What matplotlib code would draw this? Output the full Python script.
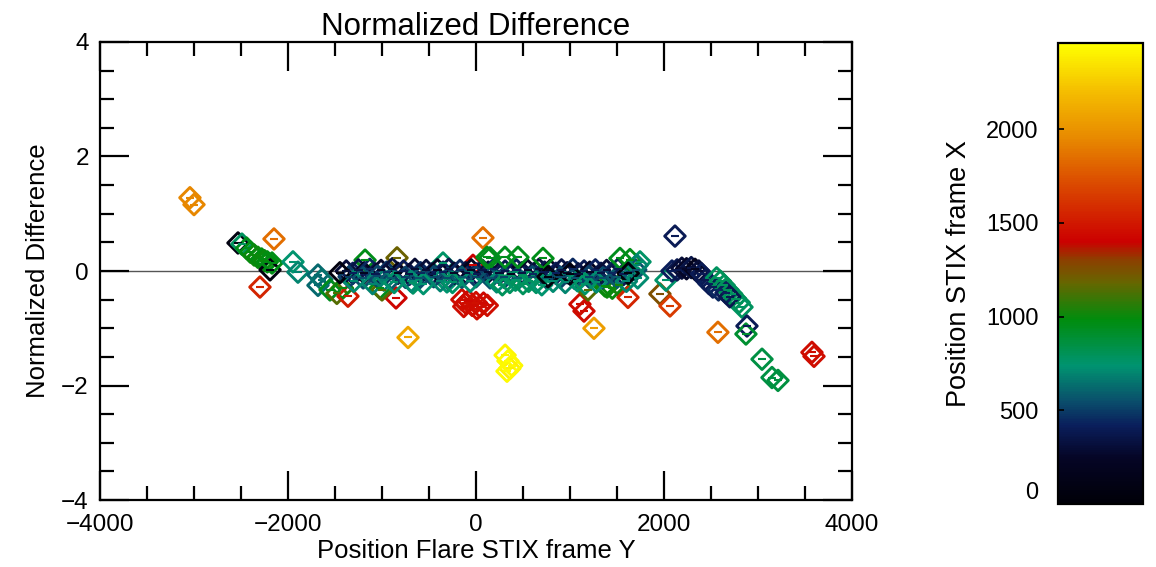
import numpy as np
import matplotlib
matplotlib.use("Agg")
import matplotlib.pyplot as plt
from matplotlib.colors import LinearSegmentedColormap, Normalize
from matplotlib.ticker import MultipleLocator
import matplotlib.cm as cm

plt.rcParams["font.family"] = ["Liberation Sans", "DejaVu Sans"]

# flare position Y, normalized difference, flare position X
pos_y = [
    -3043, -3000, -2532, -2490, -2440, -2400, -2360, -2320, -2280, -2250,
    -2220, -2191, -2170, -2149, -2298, -1947, -1894, -1681, -1681, -1640,
    -1553, -1480, -1420, -1362, -851, -723, -840, -1180, -1021, -1000,
    -670, -309, -351,
    -150, -110, -80, -40, 0, 40, 80, 120, -130, 10, -32, 74,
    310, 340, 360, 380, 330,
    1106, 1149, 1255, 1191, 1372, 1394, 1450, 1520, 1617, 1957, 2064, 2021, 2117,
    2085, 2140, 2190, 2240, 2290, 2330, 2370, 2400,
    2440, 2480, 2520, 2580, 2560, 2600, 2640, 2680, 2720, 2760, 2800, 2830,
    2660, 2700, 2883, 2872, 2574, 3043, 3149, 3213, 3574, 3596,
    -1380, -1310, -1250, -1190, -1130, -1070, -1010, -950, -890, -830,
    -770, -710, -650, -590, -530, -470, -410, -350, -290, -230,
    -170, -110, -50, 10, 70, 130, 190, 250, 310, 370,
    430, 490, 550, 610, 670, 730, 790, 850, 910, 970,
    1030, 1090, 1150, 1210, 1270, 1330, 1390, 1450, 1510, 1570, 1640, 1700,
    -1350, -1200, -1050, -900, -750, -600, -450, -300, -150, 0,
    150, 300, 450, 600, 750, 900, 1050, 1200, 1350, 1500,
    -1300, -1100, -980, -870, -690, -560, -380, -250, -60, 220,
    280, 360, 420, 500, 560, 640, 700, 820, 950, 1080,
    1160, 1280, 1600, 1720,
    117, 149, 308, 447, 713, 1532, 1638, 1745, 1713,
    -1447, 766, 1000, 1620,
]
norm_diff = [
    1.28, 1.16, 0.49, 0.47, 0.40, 0.33, 0.28, 0.24, 0.21, 0.18,
    0.16, 0.02, 0.14, 0.56, -0.28, 0.16, -0.02, -0.07, -0.25, -0.15,
    -0.33, -0.39, -0.30, -0.44, -0.47, -1.16, 0.23, 0.19, -0.30, -0.33,
    -0.21, -0.19, 0.14,
    -0.50, -0.56, -0.52, -0.60, -0.55, -0.62, -0.56, -0.60, -0.62, -0.66, 0.10, 0.58,
    -1.47, -1.57, -1.70, -1.65, -1.75,
    -0.58, -0.70, -1.00, -0.33, -0.26, -0.28, -0.30, -0.25, -0.46, -0.40, -0.61, -0.16, 0.61,
    0.00, 0.02, 0.05, 0.04, 0.06, 0.03, 0.00, -0.05,
    -0.15, -0.22, -0.28, -0.33, -0.12, -0.18, -0.25, -0.33, -0.40, -0.48, -0.55, -0.63,
    -0.38, -0.45, -0.96, -1.10, -1.07, -1.54, -1.86, -1.91, -1.42, -1.49,
    0.00, -0.04, 0.02, -0.03, 0.03, -0.05, 0.01, -0.02, 0.04, -0.04,
    0.00, -0.06, 0.03, -0.03, 0.01, -0.05, 0.02, -0.02, 0.03, -0.04,
    0.01, -0.03, 0.02, -0.05, 0.01, -0.02, 0.03, -0.04, 0.00, -0.06,
    0.02, -0.03, 0.01, -0.05, 0.03, -0.02, 0.01, -0.04, 0.02, -0.03,
    0.03, -0.05, 0.00, -0.02, 0.02, -0.04, 0.01, -0.03, 0.03, -0.06, -0.02, 0.02,
    -0.10, -0.12, -0.09, -0.13, -0.11, -0.12, -0.10, -0.13, -0.11, -0.10,
    -0.12, -0.11, -0.13, -0.10, -0.12, -0.11, -0.13, -0.10, -0.12, -0.11,
    -0.18, -0.22, -0.16, -0.20, -0.18, -0.22, -0.17, -0.20, -0.18, -0.19,
    -0.24, -0.20, -0.16, -0.22, -0.18, -0.20, -0.24, -0.18, -0.20, -0.17,
    -0.22, -0.19, -0.18, -0.12,
    0.24, 0.23, 0.24, 0.24, 0.22, 0.22, 0.20, 0.16, 0.10,
    -0.03, -0.10, -0.05, -0.04,
]
pos_x = [
    1950, 1950, 80, 780, 950, 980, 1000, 1000, 980, 1000,
    980, 60, 970, 1850, 1550, 740, 700, 620, 620, 650,
    950, 1150, 1000, 1500, 1420, 2100, 1200, 960, 950, 1150,
    760, 740, 760,
    1450, 1460, 1440, 1450, 1470, 1450, 1440, 1460, 1450, 1460, 1400, 1850,
    2420, 2450, 2400, 2430, 2440,
    1450, 1450, 2050, 1150, 980, 1000, 1000, 1020, 1550, 1250, 1650, 750, 400,
    420, 380, 300, 250, 350, 180, 300, 400,
    380, 420, 400, 450, 780, 800, 790, 800, 780, 790, 800, 780,
    420, 380, 400, 900, 1850, 850, 850, 860, 1450, 1460,
    300, 420, 350, 200, 450, 380, 250, 480, 320, 150,
    400, 350, 280, 450, 300, 380, 200, 420, 350, 250,
    450, 320, 180, 400, 350, 280, 450, 300, 380, 200,
    420, 350, 250, 450, 300, 380, 180, 420, 350, 250,
    450, 320, 380, 200, 420, 350, 300, 450, 380, 400, 500, 550,
    500, 550, 520, 580, 500, 560, 520, 540, 580, 500,
    560, 520, 600, 540, 580, 520, 560, 500, 540, 580,
    720, 700, 680, 750, 720, 740, 700, 760, 730, 720,
    790, 780, 760, 790, 780, 770, 740, 720, 700, 740,
    760, 720, 700, 720,
    960, 950, 940, 950, 960, 950, 960, 760, 700,
    50, 40, 60, 40,
]

xticks = [-4000, -2000, 0, 2000, 4000]
yticks = [-4, -2, 0, 2, 4]
cticks = [0, 500, 1000, 1500, 2000]

stix_colors = [
    (0.00, (0.00, 0.00, 0.03)),
    (0.10, (0.02, 0.02, 0.15)),
    (0.17, (0.04, 0.12, 0.36)),
    (0.22, (0.04, 0.30, 0.42)),
    (0.30, (0.00, 0.58, 0.44)),
    (0.40, (0.00, 0.55, 0.05)),
    (0.48, (0.40, 0.40, 0.00)),
    (0.53, (0.55, 0.25, 0.00)),
    (0.57, (0.80, 0.00, 0.00)),
    (0.70, (0.86, 0.30, 0.00)),
    (0.80, (0.91, 0.55, 0.00)),
    (0.90, (0.96, 0.75, 0.00)),
    (1.00, (1.00, 1.00, 0.00)),
]
cmap = LinearSegmentedColormap.from_list("stix", stix_colors)
norm = Normalize(vmin=0, vmax=2460)

fig = plt.figure(figsize=(11.56, 5.67), dpi=100)
ax = fig.add_axes([0.0865, 0.118, 0.6505, 0.808])

cols = cmap(norm(np.array(pos_x)))
ax.axhline(0, color="#555555", lw=1.0, zorder=1)
ax.scatter(pos_y, norm_diff, marker="D", s=110, facecolors="none",
           edgecolors=cols, linewidths=2.1, zorder=2)
ax.scatter(pos_y, norm_diff, marker="_", s=35, c=cols, linewidths=1.5, zorder=2)

ax.set_xlim(-4000, 4000)
ax.set_ylim(-4, 4)
ax.set_xticks(xticks)
ax.set_yticks(yticks)
ax.xaxis.set_minor_locator(MultipleLocator(500))
ax.yaxis.set_minor_locator(MultipleLocator(0.5))
ax.tick_params(which="both", direction="in", top=True, right=True, width=1.6, labelsize=17.5)
ax.tick_params(which="major", length=21)
ax.tick_params(which="minor", length=10)
ax.tick_params(axis="x", which="major", pad=10)
ax.tick_params(axis="y", which="major", pad=8)
ax.set_xticklabels(["\u22124000", "\u22122000", "0", "2000", "4000"])
ax.set_yticklabels(["\u22124", "\u22122", "0", "2", "4"])
for sp in ax.spines.values():
    sp.set_linewidth(1.6)

ax.set_title("Normalized Difference", fontsize=22.5, pad=5)
ax.set_xlabel("Position Flare STIX frame Y", fontsize=18.5, labelpad=2)
ax.set_ylabel("Normalized Difference", fontsize=18.5, labelpad=8)

cax = fig.add_axes([0.915, 0.111, 0.0735, 0.813])
sm = cm.ScalarMappable(norm=norm, cmap=cmap)
cb = fig.colorbar(sm, cax=cax, ticks=cticks)
cb.outline.set_linewidth(1.6)
cax.yaxis.set_ticks_position("left")
cax.yaxis.set_label_position("left")
cax.tick_params(direction="in", length=4, width=1.2, labelsize=17, pad=14)
cax.get_yticklabels()[0].set_va("bottom")
cax.set_ylabel("Position STIX frame X", fontsize=19.5, labelpad=10)

fig.savefig("out.png", dpi=100)
